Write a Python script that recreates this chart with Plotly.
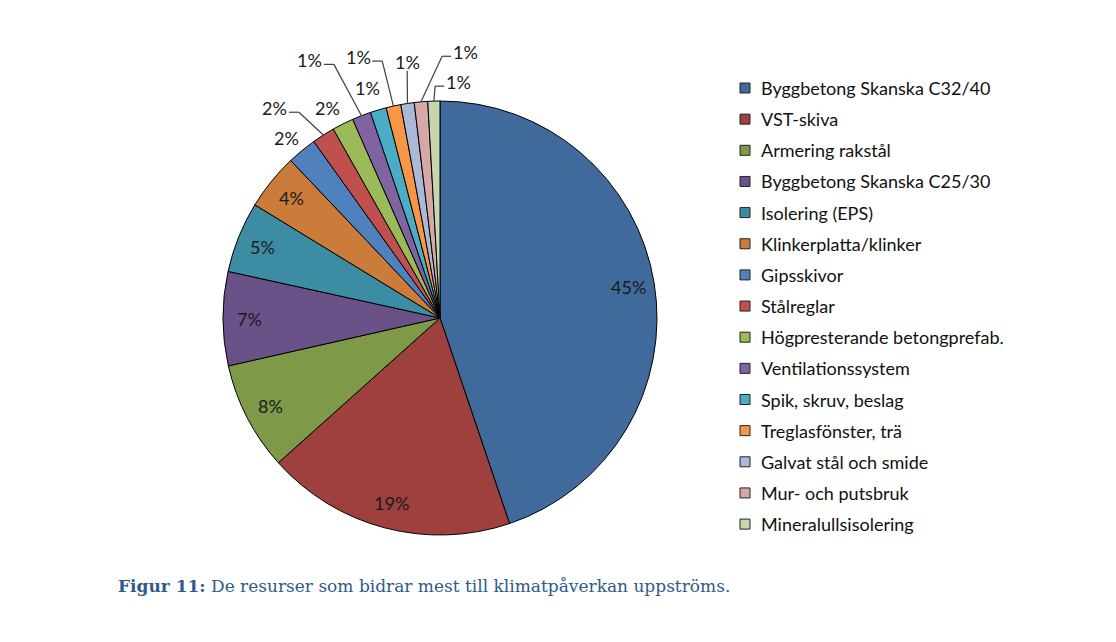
import math

import plotly.graph_objects as go

W, H = 1116, 642

# slices, clockwise from 12 o'clock
LABELS = [
    "Byggbetong Skanska C32/40", "VST-skiva", "Armering rakstål",
    "Byggbetong Skanska C25/30", "Isolering (EPS)", "Klinkerplatta/klinker",
    "Gipsskivor", "Stålreglar", "Högpresterande betongprefab.",
    "Ventilationssystem", "Spik, skruv, beslag", "Treglasfönster, trä",
    "Galvat stål och smide", "Mur- och putsbruk", "Mineralullsisolering",
]
VALUES = [44.9, 18.6, 8.1, 7.0, 5.3, 4.2, 2.2, 1.7, 1.6, 1.4, 1.2, 1.1, 1.0, 1.0, 0.9]
COLORS = [
    "#406A9C", "#9E413E", "#7E9A48", "#6A5288", "#3C8DA3", "#CC7C3A",
    "#4F81BD", "#C0504D", "#9BBB59", "#8064A2", "#4BACC6", "#F79646",
    "#A9B9D6", "#D6A9A8", "#C6D6AF",
]

CX, CY, R = 440, 318, 217  # pie centre / radius in px
N_INSIDE = 6
R_INSIDE = 0.88
# label placement for the small slices: (angle deg clockwise from top, radius / R, leader side)
OUT_POS = [
    (319.6, 1.09, None), (321.8, 1.23, "right"), (331.8, 1.10, None),
    (333.2, 1.33, "right"), (342.4, 1.11, None), (342.6, 1.26, "right"),
    (352.7, 1.19, "below"), (5.4, 1.23, "left"), (4.4, 1.09, "left"),
]


def px_x(x):
    return x / W


def px_y(y):
    return 1 - y / H


def polar(ang, r):
    a = math.radians(ang)
    return CX + r * R * math.sin(a), CY - r * R * math.cos(a)


fig = go.Figure(go.Pie(
    labels=LABELS, values=VALUES, sort=False, direction="clockwise",
    rotation=0, textinfo="none",
    marker=dict(colors=COLORS, line=dict(color="#000000", width=1)),
    domain=dict(x=[px_x(CX - R), px_x(CX + R)], y=[px_y(CY + R), px_y(CY - R)]),
    showlegend=False, hoverinfo="label+percent",
))

total = sum(VALUES)
shapes, annots = [], []
lab_font = dict(family="Lato", size=18, color="#1a1a1a")
cum = 0.0
for i, v in enumerate(VALUES):
    mid = (cum + v / 2) / total * 360
    cum += v
    txt = f"{round(v / total * 100)}%"
    if i < N_INSIDE:
        lx, ly = polar(mid, R_INSIDE)
        side = None
    else:
        ang, rr, side = OUT_POS[i - N_INSIDE]
        lx, ly = polar(ang, rr)
    annots.append(dict(xref="paper", yref="paper", x=px_x(lx), y=px_y(ly),
                       xanchor="center", yanchor="middle", showarrow=False,
                       text=txt, font=lab_font))
    if side:
        ex, ey = polar(mid, 1.0)
        if side == "right":
            pts = [(lx + 14, ly + 4), (lx + 24, ly + 4), (ex, ey)]
        elif side == "left":
            pts = [(lx - 14, ly + 4), (lx - 23, ly + 4), (ex, ey)]
        else:
            pts = [(lx, ly + 9), (ex, ey)]
        for (x0, y0), (x1, y1) in zip(pts[:-1], pts[1:]):
            shapes.append(dict(type="line", xref="paper", yref="paper",
                               x0=px_x(x0), y0=px_y(y0), x1=px_x(x1), y1=px_y(y1),
                               line=dict(color="#404040", width=1.2)))

# legend drawn by hand to get Excel-like row spacing
LEG_X, LEG_Y0, LEG_DY, BOX = 745, 88, 31.15, 10
for i, (name, col) in enumerate(zip(LABELS, COLORS)):
    y = LEG_Y0 + i * LEG_DY
    shapes.append(dict(
        type="rect", xref="paper", yref="paper",
        x0=px_x(LEG_X - BOX / 2), x1=px_x(LEG_X + BOX / 2),
        y0=px_y(y + BOX / 2), y1=px_y(y - BOX / 2),
        fillcolor=col, line=dict(color="#222222", width=1),
    ))
    annots.append(dict(
        xref="paper", yref="paper", x=px_x(LEG_X + 14), y=px_y(y),
        xanchor="left", yanchor="middle", showarrow=False, text=name,
        font=dict(family="Lato", size=18, color="#111111"),
    ))

annots.append(dict(
    xref="paper", yref="paper", x=px_x(116), y=px_y(586),
    xanchor="left", yanchor="middle", showarrow=False,
    text="<b>Figur 11:</b> De resurser som bidrar mest till klimatpåverkan uppströms.",
    font=dict(family="DejaVu Serif", size=17, color="#2F5A8C"),
))

fig.update_layout(
    width=W, height=H, margin=dict(l=0, r=0, t=0, b=0, autoexpand=False),
    paper_bgcolor="white", plot_bgcolor="white",
    shapes=shapes, annotations=annots,
)
fig.write_html("out.html", config={"displayModeBar": False},
               post_script="document.body.style.margin='0px';")
